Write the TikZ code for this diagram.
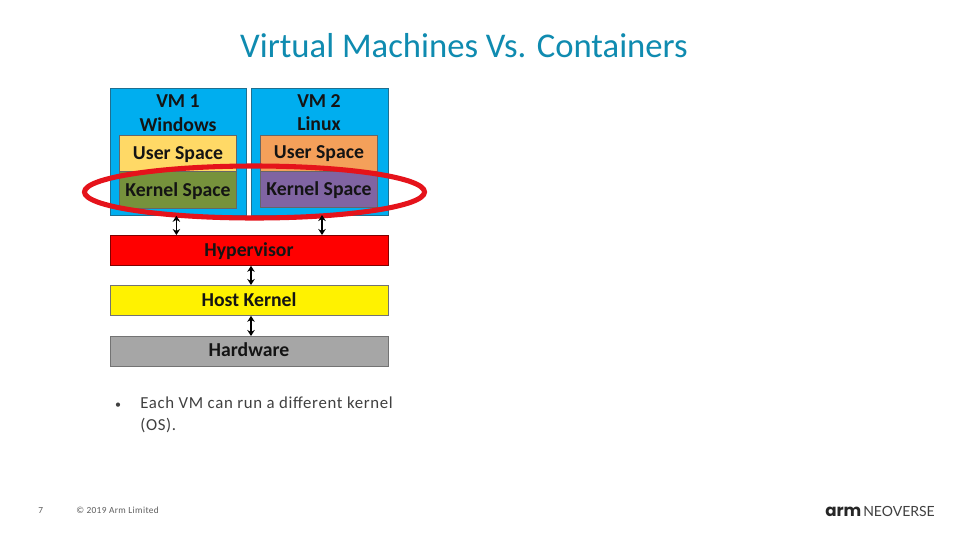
\documentclass[tikz,border=0pt]{standalone}
\usepackage{fontspec}
\setmainfont{Carlito}
\newfontfamily\logofont{Poppins}
\newfontfamily\neofont{Lato}
\newfontfamily\spacedfont[LetterSpace=4]{Carlito}
\usetikzlibrary{arrows.meta,shapes.geometric}
\definecolor{titleblue}{HTML}{0F8BB0}
\definecolor{vmblue}{HTML}{00AEEF}
\definecolor{edgeblue}{HTML}{1F6F90}
\definecolor{userone}{HTML}{FFD966}
\definecolor{usertwo}{HTML}{F4A05A}
\definecolor{kernone}{HTML}{76923C}
\definecolor{kerntwo}{HTML}{8064A2}
\definecolor{hwgrey}{HTML}{A6A6A6}
\definecolor{txtgrey}{HTML}{404040}
\definecolor{ringred}{HTML}{E5131B}
\tikzset{
  x=0.75pt,y=-0.75pt,
  box/.style={draw=#1,line width=0.6pt,minimum height=0,inner sep=0pt},
  lbl/.style={font=\fontsize{14.8}{16}\selectfont\bfseries,text=black!92,inner sep=0pt,anchor=base},
  dbl/.style={{Stealth[length=4.5pt,width=5.6pt]}-{Stealth[length=4.5pt,width=5.6pt]},line width=0.8pt,black},
  txt/.style={font=\spacedfont\fontsize{12.6}{16.5}\selectfont,text=txtgrey,inner sep=0pt,anchor=base west},
  foot/.style={font=\spacedfont\fontsize{7}{8}\selectfont,text=txtgrey!85,inner sep=0pt,anchor=base west}
}
\newcommand{\rbox}[6]{\node[box=#6,fill=#5,minimum width=#3*0.75pt,minimum height=#4*0.75pt,anchor=north west] (#1) at #2 {};}
\begin{document}
\begin{tikzpicture}
\useasboundingbox (0,0) rectangle (960,540);
\fill[white] (0,0) rectangle (960,540);
\node[font=\fontsize{26}{30}\selectfont,text=titleblue,inner sep=0pt,anchor=base] (title) at (464,57) {Virtual Machines Vs. Containers};
\rbox{vmone}{(110,88)}{136}{127}{vmblue}{edgeblue}
\rbox{vmtwo}{(251,88)}{137}{127}{vmblue}{edgeblue}
\rbox{userone}{(119,135)}{117}{36}{userone}{black!60}
\rbox{kernone}{(119,171)}{117}{37}{kernone}{black!60}
\rbox{usertwo}{(260,135)}{117}{36}{usertwo}{black!60}
\rbox{kerntwo}{(260,171)}{117}{36}{kerntwo}{black!60}
\rbox{hyp}{(110,235)}{277.5}{30}{red}{black!50!red}
\rbox{host}{(110,285)}{277.5}{30}{yellow}{black!55}
\rbox{hw}{(110,336)}{277.5}{29.5}{hwgrey}{black!55}
\node[lbl] (vmonea) at (178,107) {VM 1};
\node[lbl] (vmoneb) at (178,131) {Windows};
\node[lbl] (vmtwoa) at (319,107) {VM 2};
\node[lbl] (vmtwob) at (319,130.5) {Linux};
\node[lbl] (uone) at (178,159.5) {User Space};
\node[lbl] (utwo) at (319,158.5) {User Space};
\node[lbl] (kone) at (178,196.5) {Kernel Space};
\node[lbl] (ktwo) at (319,195.5) {Kernel Space};
\node[lbl] (hypl) at (249,256.5) {Hypervisor};
\node[lbl] (hostl) at (249,306.5) {Host Kernel};
\node[lbl] (hwl) at (249,356.5) {Hardware};
\node[draw=ringred,line width=3.8pt,ellipse,minimum width=340*0.75pt,minimum height=52*0.75pt,inner sep=0pt] (ring) at (254.5,192) {};
\draw[dbl] ([xshift=-1.5pt]vmone.south) -- ([xshift=-1.5pt]vmone.south |- hyp.north);
\draw[dbl] (322,215) coordinate (atwo) -- (atwo |- hyp.north);
\draw[dbl] (hyp.south -| 251,0) -- (host.north -| 251,0);
\draw[dbl] (host.south -| 251,0) -- (hw.north -| 251,0);
\node[font=\fontsize{9}{16}\selectfont,text=txtgrey,inner sep=0pt,anchor=base] (bul) at (118,408) {•};
\node[txt] (bodya) at (140,408.5) {Each VM can run a different kernel};
\node[txt] (bodyb) at (140,430.5) {(OS).};
\node[foot] (pg) at (38,513) {7};
\node[foot] (copy) at (76,513) {© 2019 Arm Limited};
\node[font=\logofont\bfseries\fontsize{12.5}{14}\selectfont,text=black!85,inner sep=0pt,anchor=base west] (arm) at (825,516) {arm};
\node[font=\neofont\fontsize{10.5}{12}\selectfont,text=black!75,inner sep=0pt,anchor=base west] (neo) at (863,516) {NEOVERSE};
\end{tikzpicture}
\end{document}
